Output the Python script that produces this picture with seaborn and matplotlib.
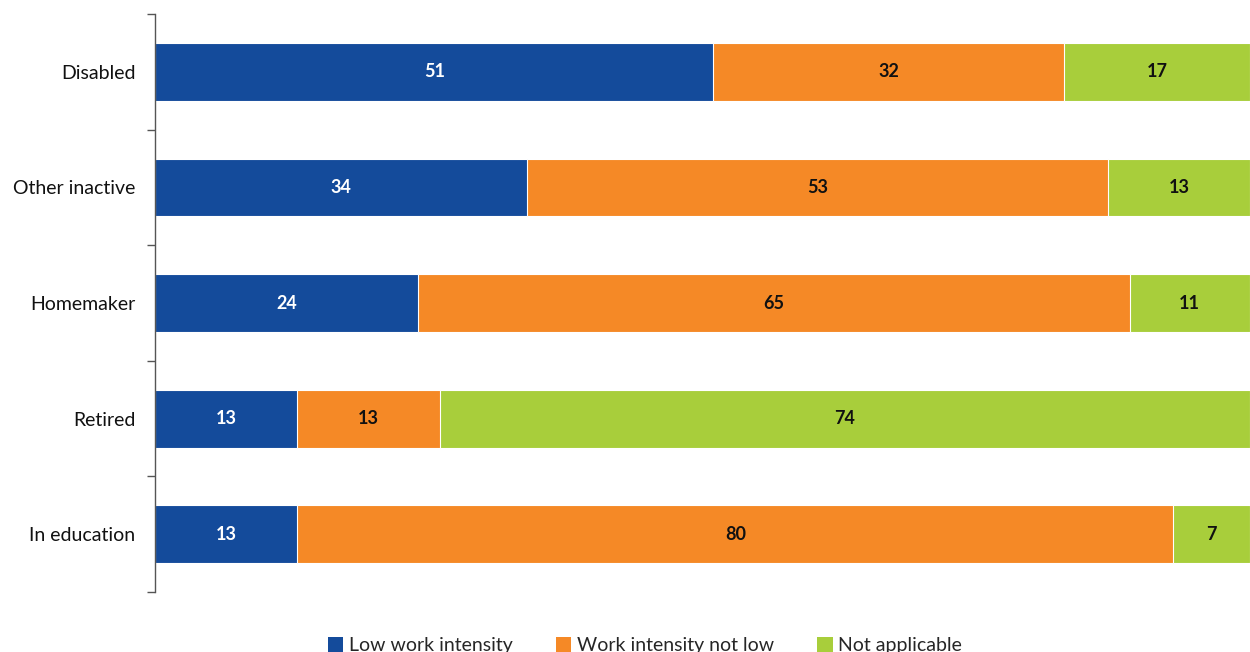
import numpy as np
import pandas as pd
import matplotlib.pyplot as plt
import seaborn as sns
from matplotlib.patches import Patch

# Data (shares, %)
categories = ['Disabled', 'Other inactive', 'Homemaker', 'Retired', 'In education']
low_work = [51, 34, 24, 13, 13]
work_not_low = [32, 53, 65, 13, 80]
not_applicable = [17, 13, 11, 74, 7]
series_names = ['Low work intensity', 'Work intensity not low', 'Not applicable']
colors = ['#144B9B', '#F58926', '#A8CE3B']
text_colors = ['white', '#111111', '#111111']

sns.set_style('white')
plt.rcParams['font.family'] = ['Lato', 'DejaVu Sans']

d = pd.DataFrame({'category': categories,
                  series_names[0]: low_work,
                  series_names[1]: work_not_low,
                  series_names[2]: not_applicable})

# cumulative ends of each segment
vals = d[series_names].to_numpy(dtype=float)
ends = np.cumsum(vals, axis=1)
starts = ends - vals

fig = plt.figure(figsize=(12.5, 6.52), dpi=100)
ax = fig.add_axes([0.124, 0.092, 0.876, 0.8865])

# draw from the longest cumulative bar down so segments stack
for i in reversed(range(3)):
    tmp = pd.DataFrame({'category': categories, 'end': ends[:, i]})
    sns.barplot(data=tmp, y='category', x='end', color=colors[i],
                width=0.5, edgecolor='white', linewidth=0.8,
                saturation=1, ax=ax, orient='h')

# value labels
for r in range(len(categories)):
    for i in range(3):
        ax.text((starts[r, i] + ends[r, i]) / 2, r, f'{vals[r, i]:.0f}',
                ha='center', va='center', fontsize=13, fontweight='bold',
                color=text_colors[i])

ax.set_xlim(0, 100)
ax.set_ylim(len(categories) - 0.5, -0.5)
ax.set_xlabel('')
ax.set_ylabel('')
ax.set_xticks([])
ax.set_yticks(range(len(categories)))
ax.set_yticklabels(categories, fontsize=14, color='#111111')
ax.set_yticks(np.arange(-0.5, len(categories), 1), minor=True)
ax.tick_params(axis='y', which='major', left=False, length=0, pad=14)
ax.tick_params(axis='y', which='minor', left=True, length=6, width=1,
               color='#555555', direction='out')
for s in ['top', 'right', 'bottom']:
    ax.spines[s].set_visible(False)
ax.spines['left'].set_color('#555555')
ax.spines['left'].set_linewidth(1)

handles = [Patch(facecolor=c, edgecolor='none') for c in colors]
fig.legend(handles, series_names, loc='lower center', bbox_to_anchor=(0.516, -0.03),
           ncol=3, frameon=False, fontsize=14, handlelength=0.8, handleheight=0.8,
           handletextpad=0.3, columnspacing=2.2)

fig.savefig('out.png', dpi=100)
